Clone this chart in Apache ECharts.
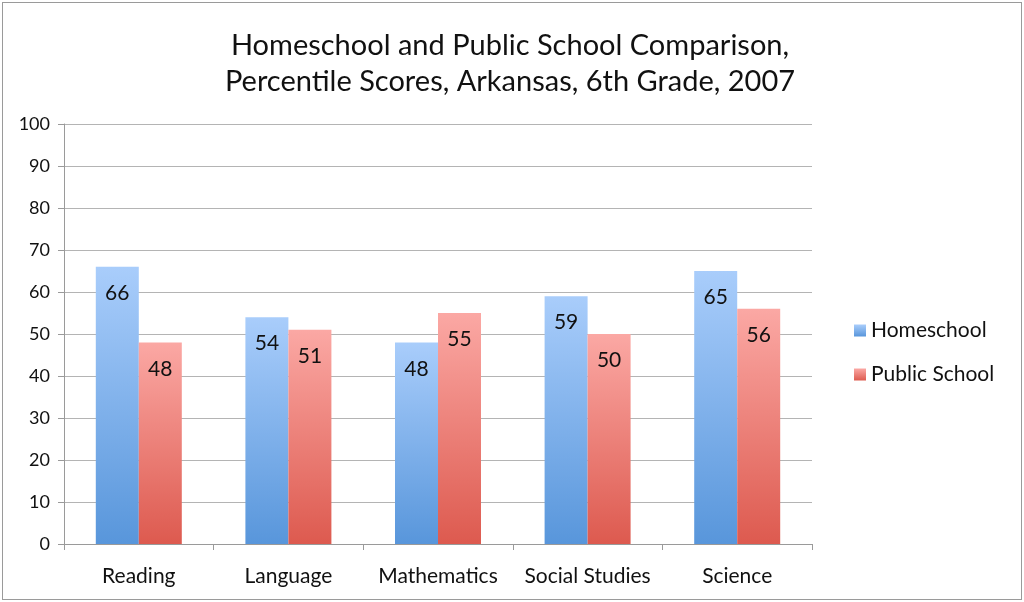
<!DOCTYPE html>
<html>
<head>
<meta charset="utf-8">
<script src="https://cdn.jsdelivr.net/npm/echarts@6/dist/echarts.min.js"></script>
<style>
html, body { margin: 0; padding: 0; background: #fff; }
#chart { position: absolute; left: 2px; top: 2px; width: 1018px; height: 596px; border: 1px solid #9a9a9a; }
</style>
</head>
<body>
<div id="chart"></div>
<script>
var categories = ['Reading', 'Language', 'Mathematics', 'Social Studies', 'Science'];
var homeschool = [66, 54, 48, 59, 65];
var publicSchool = [48, 51, 55, 50, 56];
var yTicks = [0, 10, 20, 30, 40, 50, 60, 70, 80, 90, 100];

var font = 'Lato, "Open Sans", sans-serif';
var myChart = echarts.init(document.getElementById('chart'));

function grad(top, bottom) {
	return new echarts.graphic.LinearGradient(0, 0, 0, 1, [
		{ offset: 0, color: top },
		{ offset: 1, color: bottom }
	]);
}

var labelCfg = {
	show: true,
	position: 'insideTop',
	distance: 16,
	fontFamily: font,
	fontSize: 21,
	color: '#111'
};

var option = {
	animation: false,
	title: {
		text: 'Homeschool and Public School Comparison,\nPercentile Scores, Arkansas, 6th Grade, 2007',
		left: 502,
		top: 20,
		textAlign: 'center',
		textStyle: { fontFamily: font, fontSize: 29, fontWeight: 'normal', color: '#111', lineHeight: 36 }
	},
	legend: {
		orient: 'vertical',
		left: 846,
		top: 312,
		itemWidth: 12,
		itemHeight: 12,
		itemGap: 23,
		icon: 'rect',
		textStyle: { fontFamily: font, fontSize: 21, color: '#111' },
		data: ['Homeschool', 'Public School']
	},
	grid: { left: 61, right: 209, top: 121, bottom: 55 },
	xAxis: {
		type: 'category',
		data: categories,
		axisLine: { lineStyle: { color: '#9a9a9a' } },
		axisTick: { show: true, length: 6, lineStyle: { color: '#9a9a9a' } },
		axisLabel: { interval: 0, fontFamily: font, fontSize: 21, color: '#111', margin: 22 }
	},
	yAxis: {
		type: 'value',
		min: yTicks[0],
		max: yTicks[yTicks.length - 1],
		interval: 10,
		axisLine: { show: true, lineStyle: { color: '#9a9a9a' } },
		axisTick: { show: true, length: 6, lineStyle: { color: '#9a9a9a' } },
		splitLine: { lineStyle: { color: '#b4b4b4' } },
		axisLabel: { fontFamily: font, fontSize: 18, color: '#111', margin: 14 }
	},
	series: [{
		name: 'Homeschool',
		type: 'bar',
		data: homeschool,
		barWidth: 43,
		barGap: '0%',
		itemStyle: { color: grad('#a9cdfb', '#5896db') },
		label: labelCfg
	}, {
		name: 'Public School',
		type: 'bar',
		data: publicSchool,
		barWidth: 43,
		itemStyle: { color: grad('#fba8a4', '#dd5a4f') },
		label: labelCfg
	}]
};

myChart.setOption(option);
</script>
</body>
</html>
